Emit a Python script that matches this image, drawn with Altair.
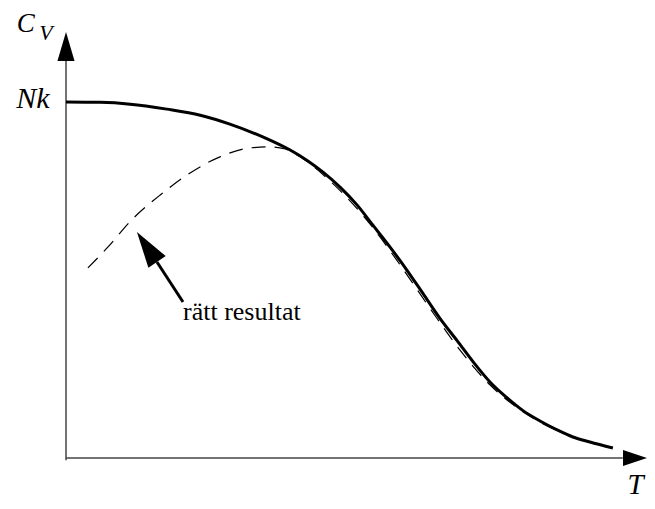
import altair as alt
import pandas as pd

# Correct heat capacity curve (T in arbitrary units, Cv in units of Nk)
solid_T = [0.000, 0.062, 0.117, 0.184, 0.245, 0.299, 0.359, 0.409, 0.440, 0.469,
           0.500, 0.531, 0.560, 0.591, 0.622, 0.651, 0.682, 0.714, 0.743, 0.774,
           0.805, 0.834, 0.865, 0.896, 0.925, 0.956, 0.998]
solid_C = [1.000, 0.999, 0.994, 0.980, 0.963, 0.938, 0.902, 0.865, 0.836, 0.803,
           0.761, 0.711, 0.654, 0.593, 0.528, 0.463, 0.393, 0.329, 0.270, 0.213,
           0.169, 0.133, 0.104, 0.079, 0.059, 0.045, 0.028]

# Dashed curve ("rätt resultat")
dash_T = [0.040, 0.075, 0.120, 0.172, 0.221, 0.281, 0.336, 0.372, 0.400, 0.427,
          0.482, 0.555, 0.609, 0.664, 0.719, 0.774, 0.828, 0.901, 0.974]
dash_C = [0.534, 0.590, 0.669, 0.739, 0.795, 0.846, 0.871, 0.874, 0.868, 0.846,
          0.778, 0.657, 0.544, 0.421, 0.303, 0.205, 0.136, 0.074, 0.038]

label_text = "rätt resultat"

# Canvas / scale calibration
W, H = 639, 493
PX0, PXU = 66, 548   # x pixel of T=0, pixels per T unit
PY0, PYU = 458, 356  # y pixel of Cv=0, pixels per Cv unit
t_dom = [(8 - PX0) / PXU, (8 + W - PX0) / PXU]
c_dom = [(PY0 - 8 - H) / PYU, (PY0 - 8) / PYU]

xs = alt.Scale(domain=t_dom, nice=False, zero=False)
ys = alt.Scale(domain=c_dom, nice=False, zero=False)

def X(f="T"):
    return alt.X(f"{f}:Q", scale=xs, axis=None)

def Y(f="C"):
    return alt.Y(f"{f}:Q", scale=ys, axis=None)

solid_df = pd.DataFrame({"T": solid_T, "C": solid_C})
dash_df = pd.DataFrame({"T": dash_T, "C": dash_C})

axes_df = pd.DataFrame({
    "T": [0.0, 0.0], "T2": [0.0, 1.016],
    "C": [-0.006, 0.0], "C2": [1.115, 0.0],
})

up = "M0,-1L0.59,1L-0.59,1Z"
right = "M1,0L-1,-0.67L-1,0.67Z"

axis_lines = alt.Chart(axes_df).mark_rule(color="#444444", strokeWidth=1.5).encode(
    x=X("T"), x2="T2:Q", y=Y("C"), y2="C2:Q")

y_head = alt.Chart(pd.DataFrame({"T": [0.0], "C": [1.156]})).mark_point(
    shape=up, filled=True, size=841, color="black", opacity=1, strokeWidth=0
).encode(x=X(), y=Y())

x_head = alt.Chart(pd.DataFrame({"T": [1.0383], "C": [0.0]})).mark_point(
    shape=right, filled=True, size=576, color="black", opacity=1, strokeWidth=0
).encode(x=X(), y=Y())

dashed = alt.Chart(dash_df).mark_line(
    color="black", strokeWidth=1.2, strokeDash=[14, 9], interpolate="monotone"
).encode(x=X(), y=Y(), order="T:Q")

solid = alt.Chart(solid_df).mark_line(
    color="black", strokeWidth=3, interpolate="monotone"
).encode(x=X(), y=Y(), order="T:Q")

shaft = alt.Chart(pd.DataFrame({"T": [0.2135], "T2": [0.1660], "C": [0.4382], "C2": [0.5506]})).mark_rule(
    color="black", strokeWidth=3).encode(x=X("T"), x2="T2:Q", y=Y("C"), y2="C2:Q")

head = alt.Chart(pd.DataFrame({"T": [0.1478], "C": [0.5927]})).mark_point(
    shape="M0,-1L0.58,1L-0.58,1Z", filled=True, size=1296, angle=326,
    color="black", opacity=1, strokeWidth=0
).encode(x=X(), y=Y())

def txt(t, c, s, size, align="left", italic=True, dy=0):
    return alt.Chart(pd.DataFrame({"T": [t], "C": [c], "s": [s]})).mark_text(
        font="Liberation Serif", fontSize=size, fontStyle="italic" if italic else "normal",
        align=align, baseline="alphabetic", color="black", dy=dy
    ).encode(x=X(), y=Y(), text="s:N")

label = txt(0.2135, 0.388, label_text, 26, italic=False)
nk = txt(-0.030, 1.0, "Nk", 30, align="right", dy=6)
cv_c = txt(-0.090, 1.1966, "C", 27)
cv_v = txt(-0.049, 1.174, "V", 22)
t_lab = txt(1.054, -0.101, "T", 29, align="right")

chart = alt.layer(
    axis_lines, y_head, x_head, dashed, solid, shaft, head, label, nk, cv_c, cv_v, t_lab
).properties(
    width=W, height=H, padding=0,
    autosize=alt.AutoSizeParams(type="none"),
).configure_view(stroke=None)

chart.save("out.html", embed_options={"renderer": "svg", "actions": False})
